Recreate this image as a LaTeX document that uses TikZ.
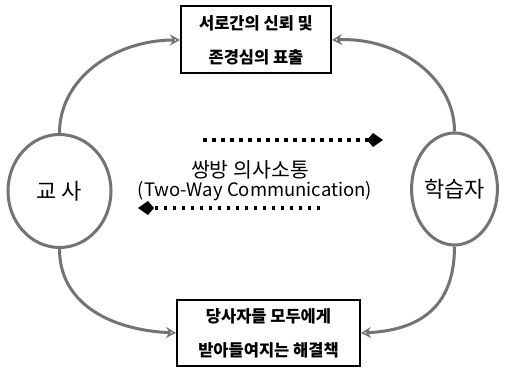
\documentclass[tikz,border=0pt]{standalone}
\usepackage{fontspec}
\setmainfont{Noto Sans CJK KR}
\usetikzlibrary{arrows.meta,shapes.geometric}
\begin{document}
\begin{tikzpicture}[x=1pt,y=-1pt,
  circ/.style={ellipse,draw=black!55,line width=3pt,inner sep=0pt,font=\fontsize{22}{24}\selectfont},
  msgbox/.style={rectangle,draw=black,line width=2pt,inner sep=0pt,align=center,font=\bfseries\fontsize{16.5}{34}\selectfont},
  link/.style={draw=black!55,line width=3pt,-{Stealth[length=10pt,width=11pt,open,line width=1.5pt]}},
  dots/.style={line width=3.5pt,dash pattern=on 3.5pt off 5.5pt,-{Kite[length=16pt,width=14pt,inset=6pt]}}
]
\useasboundingbox[fill=white] (0,0) rectangle (507,369);
\node[circ,minimum width=103pt,minimum height=113pt] (lc) at (59.5,191) {교 사};
\node[circ,minimum width=85pt,minimum height=112pt] (rc) at (454.5,189) {학습자};
\node[msgbox,minimum width=150pt,minimum height=67pt] (tb) at (256,40) {서로간의 신뢰 및\\존경심의 표출};
\node[msgbox,minimum width=183pt,minimum height=66pt] (bb) at (268.5,333) {당사자들 모두에게\\받아들여지는 해결책};
\node[font=\fontsize{20.5}{24}\selectfont] (t1) at (250,170) {쌍방 의사소통};
\node[font=\fontsize{18.5}{24}\selectfont] (t2) at (255,191) {(Two-Way Communication)};
\draw[link] (lc.north) .. controls +(0,-55) and +(-65,0) .. (tb.west);
\draw[link] (rc.north) .. controls +(0,-55) and +(65,-3) .. (tb.east);
\draw[link] (lc.south) .. controls +(0,55) and +(-65,-3) .. (bb.west);
\draw[link] (rc.south) .. controls +(0,55) and +(65,-3) .. (bb.east);
\coordinate (a1) at (203,140);
\coordinate (a2) at (383,140);
\coordinate (b1) at (320,208);
\coordinate (b2) at (138,208);
\draw[dots] (a1) -- (a2);
\draw[dots] (b1) -- (b2);
\end{tikzpicture}
\end{document}
